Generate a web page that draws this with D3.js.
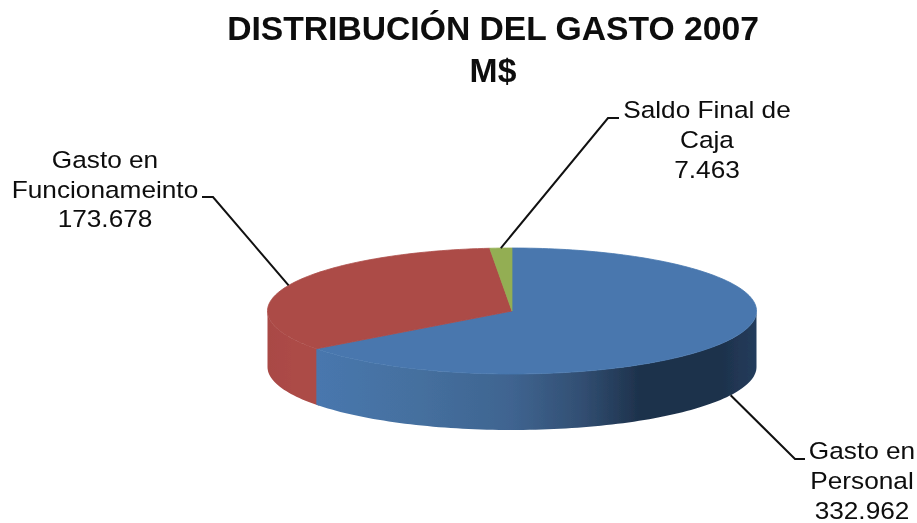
<!DOCTYPE html>
<html>
<head>
<meta charset="utf-8">
<script src="https://cdn.jsdelivr.net/npm/d3@7"></script>
<style>
html, body { margin: 0; padding: 0; background: #fff; }
svg { display: block; }
text { font-family: "Liberation Sans", Arial, sans-serif; fill: #0a0a0a; }
</style>
</head>
<body>
<script>
// Data
var categorias = ["Gasto en Personal", "Gasto en Funcionameinto", "Saldo Final de Caja"];
var valores = [332962, 173678, 7463];
var etiquetas = [["Gasto en", "Personal"], ["Gasto en", "Funcionameinto"], ["Saldo Final de", "Caja"]];
var titulo = ["DISTRIBUCIÓN DEL GASTO 2007", "M$"];
var colores = ["#4877AE", "#AC4B47", "#93AE53"];

var width = 917, height = 523;
var cx = 512, cy = 311, rx = 244.5, ry = 63, depth = 56;

// where each label sits: knee of the leader line, end of it, text centre, first baseline
var rotulos = [
    {knee: [795, 459], end: [805, 459], tx: 862, ty: 459, dy: 30},
    {knee: [213, 197], end: [202, 197], tx: 105, ty: 168, dy: 29.5},
    {knee: [608, 118], end: [619, 118], tx: 707, ty: 118, dy: 30}
];

var es = d3.formatLocale({decimal: ",", thousands: ".", grouping: [3], currency: ["$", ""]});
var fmt = es.format(",d");

var svg = d3.select("body").append("svg")
    .attr("width", width)
    .attr("height", height);

var defs = svg.append("defs");
defs.append("filter").attr("id", "soft")
    .attr("x", "-5%").attr("y", "-5%").attr("width", "110%").attr("height", "110%")
    .append("feGaussianBlur").attr("stdDeviation", 0.6);
defs.append("filter").attr("id", "softText")
    .append("feGaussianBlur").attr("stdDeviation", 0.35);

// wall shading, blue part goes dark towards the right
var paredAzul = defs.append("linearGradient").attr("id", "paredAzul")
    .attr("gradientUnits", "userSpaceOnUse")
    .attr("x1", cx - rx).attr("x2", cx + rx).attr("y1", 0).attr("y2", 0);
[[0.10, "#4877AE"], [0.30, "#45709F"], [0.50, "#3F6490"], [0.64, "#324F73"], [0.76, "#1E324C"], [0.93, "#1E324C"], [1, "#233C5C"]]
    .forEach(function (s) {
        paredAzul.append("stop").attr("offset", s[0]).attr("stop-color", s[1]);
    });
var paredRoja = defs.append("linearGradient").attr("id", "paredRoja")
    .attr("gradientUnits", "userSpaceOnUse")
    .attr("x1", cx - rx).attr("x2", cx - rx + 25).attr("y1", 0).attr("y2", 0);
paredRoja.append("stop").attr("offset", 0).attr("stop-color", "#A94845");
paredRoja.append("stop").attr("offset", 1).attr("stop-color", "#AC4B47");

var pie = d3.pie().sort(null).value(function (d) { return d; });
var arcs = pie(valores);

// angle is clockwise from 12 o'clock, same as d3.pie
function px(a) { return cx + rx * Math.sin(a); }
function py(a) { return cy - ry * Math.cos(a); }

var line = d3.line();

function arco(a0, a1, off) {
    var n = Math.max(2, Math.ceil((a1 - a0) * 40));
    return d3.range(n + 1).map(function (i) {
        var a = a0 + (a1 - a0) * i / n;
        return [px(a), py(a) + off];
    });
}

var chart = svg.append("g").attr("filter", "url(#soft)");

// walls first: only the front half of the rim shows (90 to 270 deg)
// red goes underneath and runs a little past the blue edge, that hides the seam
var paredes = [
    {a0: arcs[1].startAngle - 0.02, a1: Math.PI * 1.5, fill: "url(#paredRoja)"},
    {a0: Math.PI / 2, a1: arcs[0].endAngle, fill: "url(#paredAzul)"}
];
chart.selectAll("path.pared").data(paredes).enter().append("path")
    .attr("class", "pared")
    .attr("fill", function (d) { return d.fill; })
    .attr("d", function (d) {
        return line(arco(d.a0, d.a1, 0).concat(arco(d.a0, d.a1, depth).reverse())) + "Z";
    });

// top face, stroked in its own colour so no white seam shows against the wall
chart.selectAll("path.cara").data(arcs).enter().append("path")
    .attr("class", "cara")
    .attr("fill", function (d, i) { return colores[i]; })
    .attr("stroke", function (d, i) { return colores[i]; })
    .attr("stroke-width", 0.8)
    .attr("d", function (d) {
        return line([[cx, cy]].concat(arco(d.startAngle, d.endAngle, 0))) + "Z";
    });

// leader lines start at the middle of each slice's rim
var guias = svg.append("g");
guias.selectAll("path").data(arcs).enter().append("path")
    .attr("fill", "none")
    .attr("stroke", "#111")
    .attr("stroke-width", 2)
    .attr("d", function (d, i) {
        var m = (d.startAngle + d.endAngle) / 2;
        var off = Math.cos(m) < 0 ? depth : 0;
        return line([[px(m), py(m) + off], rotulos[i].knee, rotulos[i].end]);
    });

var textos = svg.append("g").attr("filter", "url(#softText)");

// slice labels, value goes on the last line. the original type is a bit wider than Liberation
arcs.forEach(function (d, i) {
    var r = rotulos[i];
    etiquetas[i].concat([fmt(d.value)]).forEach(function (t, j) {
        textos.append("text")
            .attr("transform", "translate(" + r.tx + "," + (r.ty + j * r.dy) + ") scale(1.07,1)")
            .attr("text-anchor", "middle")
            .attr("font-size", 24.5)
            .text(t);
    });
});

textos.selectAll("text.titulo").data(titulo).enter().append("text")
    .attr("class", "titulo")
    .attr("transform", function (d, i) { return "translate(493," + (40 + i * 42) + ") scale(1.02,1)"; })
    .attr("text-anchor", "middle")
    .attr("font-size", 33)
    .attr("font-weight", "bold")
    .text(function (d) { return d; });
</script>
</body>
</html>
